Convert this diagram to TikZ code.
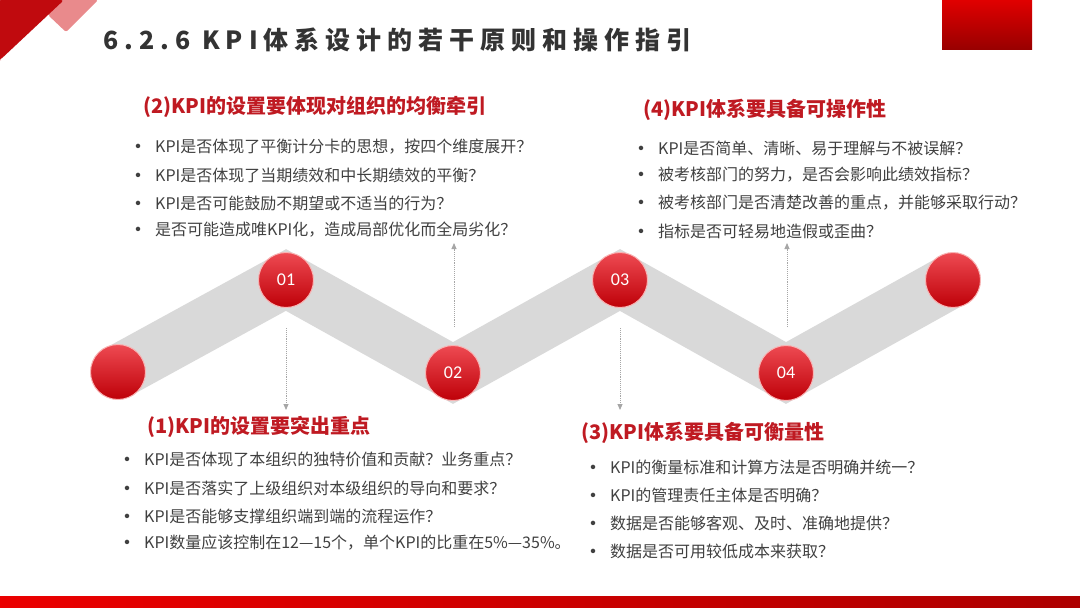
\documentclass[tikz,border=0pt]{standalone}
\usepackage{fontspec}
\setmainfont{Noto Sans CJK SC}
\newfontfamily\numfont{Carlito}
\usetikzlibrary{positioning,arrows.meta}

\definecolor{cornerred}{HTML}{C00A0E}
\definecolor{cornerpink}{HTML}{E98A8C}
\definecolor{headred}{HTML}{BF1A22}
\definecolor{titlegray}{HTML}{333333}
\definecolor{txtgray}{HTML}{404040}
\definecolor{bandgray}{HTML}{D9D9D9}
\definecolor{guidegray}{HTML}{A6A6A6}
\definecolor{ballhi}{HTML}{EE4A52}
\definecolor{balllo}{HTML}{BE0008}
\definecolor{ballrim}{HTML}{F8B4B4}

\newcommand\bul{\makebox[25pt][l]{\bfseries•}}

\tikzset{
  ball/.style={circle,minimum size=55pt,inner sep=0pt,top color=ballhi,bottom color=balllo,
    draw=ballrim,line width=1pt,text=white,font=\numfont\fontsize{18}{18}\selectfont},
  band/.style={draw=bandgray,line width=54pt},
  title/.style={anchor=west,inner sep=0pt,text=titlegray,
    font=\bfseries\fontsize{25}{30}\selectfont\addfontfeature{LetterSpace=24}},
  head/.style={anchor=west,inner sep=0pt,text=headred,font=\bfseries\fontsize{20}{24}\selectfont},
  item/.style={anchor=west,inner sep=0pt,text=txtgray,font=\fontsize{16}{18}\selectfont},
  guide/.style={draw=guidegray,densely dotted,line width=0.9pt,-{Triangle[length=6pt,width=5pt]}},
}

\begin{document}
\begin{tikzpicture}[x=1pt,y=-1pt]
\useasboundingbox (0,0) rectangle (1080,608);

% corner and bars
\fill[cornerpink,rounded corners=2pt] (55,0) -- (98,0) -- (66,32) -- (48,15) -- cycle;
\fill[cornerred,rounded corners=3pt] (-2,0) -- (64,0) -- (0,60) -- (-2,60) -- cycle;
\fill[top color=red!88!black,bottom color=red!60!black] (942,0) rectangle (1032,49);
\fill[left color=red!92!black,right color=red!68!black] (0,596) rectangle (1080,608);

\node[title] (title) at (103,40) {6.2.6 KPI体系设计的若干原则和操作指引};

% zigzag
\coordinate (p0) at (118,372);
\coordinate (p1) at (286,280);
\coordinate (p2) at (453,373);
\coordinate (p3) at (620,280);
\coordinate (p4) at (786,373);
\coordinate (p5) at (953,280);
\draw[band] (p0) -- (p1) -- (p2) -- (p3) -- (p4) -- (p5);

\node[ball] (c0) at (p0) {};
\node[ball] (c1) at (p1) {01};
\node[ball] (c2) at (p2) {02};
\node[ball] (c3) at (p3) {03};
\node[ball] (c4) at (p4) {04};
\node[ball] (c5) at (p5) {};

% arrow ends
\coordinate (t1) at (286,410);
\coordinate (t2) at (454,243);
\coordinate (t3) at (620,410);
\coordinate (t4) at (787,243);
\draw[guide] ([yshift=-20pt]c1.south) -- (t1);
\draw[guide] ([xshift=1pt,yshift=18pt]c2.north) -- (t2);
\draw[guide] ([yshift=-20pt]c3.south) -- (t3);
\draw[guide] ([xshift=1pt,yshift=18pt]c4.north) -- (t4);

% (2)
\node[head] (h2) at (143,107) {(2)KPI的设置要体现对组织的均衡牵引};
\node[item] (b21) at (130,147) {\bul KPI是否体现了平衡计分卡的思想，按四个维度展开？};
\node[item] (b22) at (130,175) {\bul KPI是否体现了当期绩效和中长期绩效的平衡？};
\node[item] (b23) at (130,203) {\bul KPI是否可能鼓励不期望或不适当的行为？};
\node[item] (b24) at (130,230) {\bul 是否可能造成唯KPI化，造成局部优化而全局劣化？};

% (4)
\node[head] (h4) at (643,110) {(4)KPI体系要具备可操作性};
\node[item] (b41) at (633,148) {\bul KPI是否简单、清晰、易于理解与不被误解？};
\node[item] (b42) at (633,175) {\bul 被考核部门的努力，是否会影响此绩效指标？};
\node[item] (b43) at (633,203) {\bul 被考核部门是否清楚改善的重点，并能够采取行动？};
\node[item] (b44) at (633,231) {\bul 指标是否可轻易地造假或歪曲？};

% (1)
\node[head] (h1) at (147,427) {(1)KPI的设置要突出重点};
\node[item] (b11) at (119,459) {\bul KPI是否体现了本组织的独特价值和贡献？业务重点？};
\node[item] (b12) at (119,488) {\bul KPI是否落实了上级组织对本级组织的导向和要求？};
\node[item] (b13) at (119,516) {\bul KPI是否能够支撑组织端到端的流程运作？};
\node[item] (b14) at (119,543) {\bul KPI数量应该控制在12—15个，单个KPI的比重在5\%—35\%。};

% (3)
\node[head] (h3) at (581,433) {(3)KPI体系要具备可衡量性};
\node[item] (b31) at (585,467) {\bul KPI的衡量标准和计算方法是否明确并统一？};
\node[item] (b32) at (585,495) {\bul KPI的管理责任主体是否明确？};
\node[item] (b33) at (585,523) {\bul 数据是否能够客观、及时、准确地提供？};
\node[item] (b34) at (585,551) {\bul 数据是否可用较低成本来获取？};

\end{tikzpicture}
\end{document}
